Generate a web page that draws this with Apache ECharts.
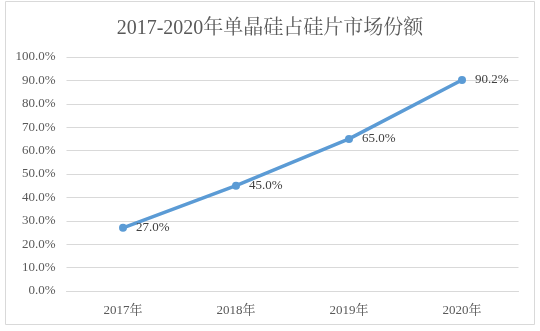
<!DOCTYPE html>
<html><head><meta charset="utf-8">
<script src="https://cdn.jsdelivr.net/npm/echarts@6/dist/echarts.min.js"></script>
<style>html,body{margin:0;padding:0;background:#fff}#c{width:540px;height:331px}</style>
</head><body><div id="c"></div>
<script>
const titleText = '2017-2020年单晶硅占硅片市场份额';
const categories = ['2017年','2018年','2019年','2020年'];
const shareValues = [27.0, 45.0, 65.0, 90.2];
const yTicks = [0,10,20,30,40,50,60,70,80,90,100];

const chart = echarts.init(document.getElementById('c'), null, {renderer:'canvas'});
const font = '"Liberation Serif","Times New Roman","Noto Serif CJK SC",serif';
chart.setOption({
  animation:false,
  backgroundColor:'#fff',
  graphic:[{type:'rect',shape:{x:5.5,y:1.5,width:529,height:323},style:{fill:'none',stroke:'#d9d9d9',lineWidth:1},silent:true}],
  title:{text:titleText,left:'center',top:14,textStyle:{fontFamily:font,fontSize:20,fontWeight:'normal',color:'#595959'}},
  grid:{left:66.5,right:21.5,top:57,bottom:40},
  xAxis:{type:'category',data:categories,boundaryGap:true,
    axisLine:{show:true,lineStyle:{color:'#d9d9d9'}},axisTick:{show:false},
    axisLabel:{fontFamily:font,fontSize:13,color:'#595959',margin:13}},
  yAxis:{type:'value',min:0,max:100,interval:10,
    axisLine:{show:false},axisTick:{show:false},
    splitLine:{lineStyle:{color:'#d9d9d9',width:1}},
    axisLabel:{fontFamily:font,fontSize:13,color:'#595959',margin:11,formatter:v=>v.toFixed(1)+'%'}},
  series:[{type:'line',data:shareValues,symbol:'circle',symbolSize:8,
    lineStyle:{color:'#5B9BD5',width:3.5},itemStyle:{color:'#5B9BD5'},
    label:{show:true,position:'right',distance:9,fontFamily:font,fontSize:13,color:'#404040',formatter:p=>p.value.toFixed(1)+'%'}}]
});
</script></body></html>
